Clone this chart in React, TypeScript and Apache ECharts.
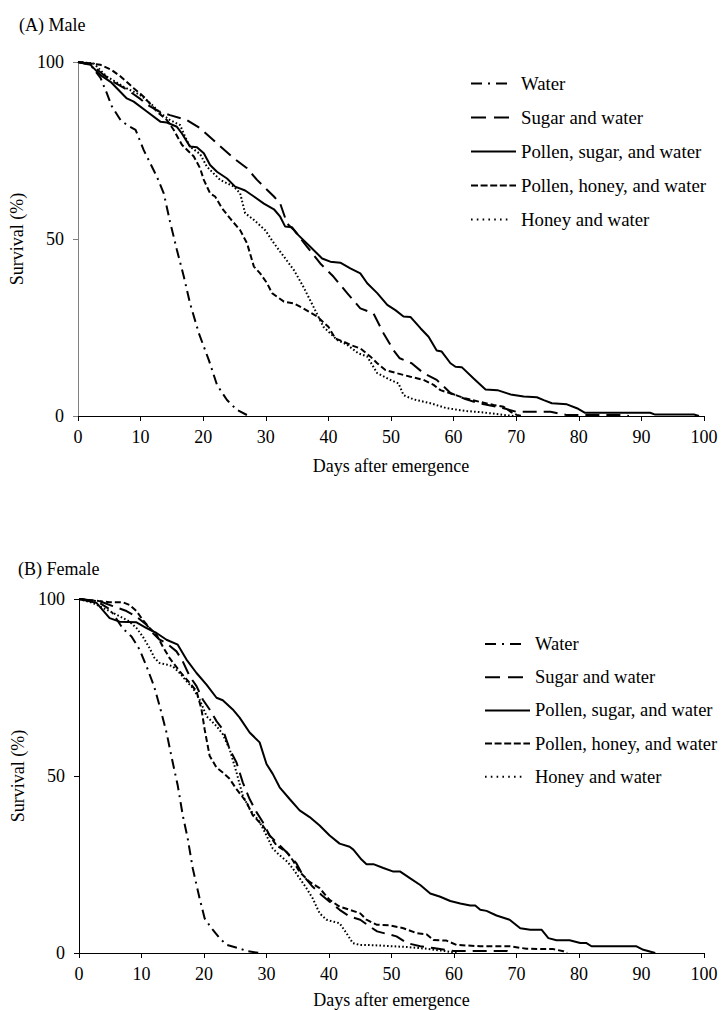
import React, { useEffect, useRef } from "react";
import * as echarts from "echarts";

const seriesNames = ["Water", "Sugar and water", "Pollen, sugar, and water", "Pollen, honey, and water", "Honey and water"];
const panelTitles = ["(A) Male", "(B) Female"];
const xAxisName = "Days after emergence";
const yAxisName = "Survival (%)";

// Male survival [day, %]
const waterM = [[0,100],[2,99.2],[3.6,95.5],[4.6,91.2],[5.4,87.5],[6.8,83.6],[8,82],[9.2,80.8],[10.5,75.1],[12.6,67.6],[13.7,62.9],[14.7,54.9],[15.8,46.9],[16.9,39.4],[17.9,31.8],[19.3,23.4],[20.9,15.8],[22.2,8.8],[23.8,4.5],[25.4,1.7],[27.3,0]];
const sugarM = [[0,100],[2,99.5],[4,96.5],[6,94],[8,92],[10,89.5],[11,88],[13,86],[14.7,85],[17.4,83.6],[19.5,81.3],[22.2,77],[24.9,72.8],[27,70],[28.6,66.7],[31.3,62],[32.3,60],[33.4,54.4],[34.5,52.5],[36.6,47.8],[38.7,43.1],[40.8,39.4],[43,34.7],[45.1,30.4],[47.2,29],[48.8,23.4],[50.4,18.6],[51.4,16.3],[53.3,14.9],[55.2,12.1],[57.3,10.2],[59.5,6.5],[62,4.7],[64,3.6],[68,2.2],[70,1.2],[75.5,1.2],[78,0.3],[87,0.3],[88,0]];
const pollenSugarM = [[0,100],[2,99.2],[3.6,96.3],[5.2,94.4],[7.8,89.7],[8.9,88.8],[11,86],[13.2,83.1],[14.2,82.9],[15.8,81.7],[16.6,79.8],[17.9,76.1],[19,75.9],[20.1,74.2],[21.1,70.9],[22.2,69],[23.8,67.1],[25.1,64.8],[26.7,63.7],[28.1,62],[29.7,60],[31.3,58.4],[32.3,56.3],[33.1,53.5],[34.2,53.3],[35.2,51.1],[37.1,47.8],[39,44.5],[40.3,43.6],[41.9,43.3],[43.5,41.7],[45.1,40.3],[46.2,37.5],[47.8,34.7],[49.4,31.4],[50.7,29.9],[52,28.1],[53.1,28],[54.7,24.8],[56,22.4],[57.3,18.5],[58.1,18.2],[59.5,14.9],[60.3,13.9],[61.3,13.8],[63.2,10.6],[65.1,7.5],[67,7.3],[69.1,6.1],[71.2,5.5],[73.3,5.3],[74.4,4.5],[75.7,3.6],[78.1,3.3],[79.7,2.2],[81,0.9],[91.4,0.9],[92.2,0.4],[98.4,0.4],[99.2,0]];
const pollenHoneyM = [[0,100],[2,99.6],[3.6,99.2],[5.4,97.7],[6.8,95.9],[8.9,92.6],[10.5,90.2],[12.6,86],[14.2,83.6],[15.3,80.8],[16.6,76.6],[18.5,73.3],[19.5,70],[20.1,66.7],[21.1,62.9],[21.9,62],[23,58.7],[24.3,55.8],[25.9,52.5],[27,48.8],[28.1,42.2],[29.1,40.3],[30.2,37.5],[31,34.7],[32.9,32.3],[34.5,31.8],[36,30.4],[38.2,28.1],[40,25.2],[41.1,21.9],[42.4,21],[43.5,20.1],[45.1,19.1],[46.7,16.8],[47.8,14.9],[49.1,13],[50.9,12.1],[53.1,11.1],[55.2,10.2],[56.8,8.8],[57.9,7.3],[60,6.1],[61.8,5],[64.2,4],[66.4,3.1],[68,2.6],[69.1,1.2],[70.1,0.3],[71,0]];
const honeyM = [[0,100],[2.5,99.6],[4.6,95.9],[7.3,93],[9.9,90.7],[11.6,88.3],[13.2,85.5],[14.7,83.6],[16.3,82.2],[17.1,78.9],[17.9,76.1],[19.5,74],[20.6,70.4],[22.7,66.7],[24.9,64.8],[25.9,62.9],[26.7,57.3],[28.1,55.4],[29.9,52.5],[31.3,48.8],[32.9,45],[34.5,41.2],[36,36.5],[37.6,30.9],[39.2,25.2],[41.4,21.5],[43,20.1],[44.8,17.7],[46.2,16.8],[47.8,12.1],[49.9,10.2],[51.2,9.2],[52,5.9],[53.6,4.7],[56.3,3.6],[58.9,2.2],[62.1,1.4],[64.8,1],[68,0.3],[69.6,0]];

// Female survival [day, %]
const waterF = [[0,100],[2.8,99.4],[5,97],[7,91.7],[8.4,89.4],[9.7,85.7],[10.8,81],[12,75.4],[12.9,69.8],[14,62.3],[15,53.8],[15.8,47.3],[16.6,38.9],[17.4,32.3],[18.2,23.9],[19.3,15.4],[20.1,9.8],[21.2,7],[22.5,4.2],[23.6,2.3],[25.4,1.4],[27,0.5],[28.9,0]];
const sugarF = [[0,100],[3.3,99.4],[5.4,98],[7.6,96.6],[9.2,95],[10.8,92.7],[11.8,90.4],[12.9,88.5],[14,87.5],[15.6,85.2],[16.6,82.4],[17.7,78.2],[18.8,75.4],[19.8,71.6],[20.9,68.8],[22,65.5],[23,63.2],[24.1,57.6],[25.2,53.8],[26.2,48.2],[27.3,43.5],[28.4,39.8],[29.4,37],[30.5,33.2],[32.1,30.4],[33.7,27.6],[34.8,25.3],[35.8,22],[37.4,18.7],[38.8,16.4],[40.1,14.5],[41.7,12.2],[43.3,10.3],[45,9.4],[46.5,7.5],[47.7,6.1],[50.8,4.7],[52.5,2.8],[54.6,1.9],[56.7,1.4],[59.9,0.6],[68.4,0.6],[69,0]];
const pollenSugarF = [[0,100],[2.8,98.9],[4.9,94.6],[6.5,93.6],[9.2,93.4],[10.8,91.8],[12.4,90.4],[14,88.5],[15.8,87.1],[17.2,82.9],[18.8,79.1],[20.4,75.8],[22,72.1],[23,71.4],[24.6,68.8],[25.7,66.5],[27.3,62.3],[28.9,59.5],[30,53.4],[31,50.6],[32.1,46.8],[33.7,43.5],[35.3,40.3],[36.9,38.4],[38.5,36],[40.1,33.2],[41.7,30.9],[43.3,30],[43.9,29.2],[45.2,26.4],[46,25.1],[47.1,25.1],[48.7,24],[50.3,23],[51.4,23],[53,21.1],[54.6,19.2],[56.2,16.8],[57.8,15.9],[59.4,14.7],[61,14],[62.6,13.4],[63.4,13.4],[64.2,12.2],[65.2,11.9],[66.8,10.6],[68.9,9.4],[70.6,7],[72.2,6.6],[74,6.6],[75.1,4.2],[76.4,3.6],[78.5,3.6],[80.2,2.8],[81.2,2.8],[82,1.9],[89.2,1.9],[90.3,0.9],[92.2,0]];
const pollenHoneyF = [[0,100],[3.3,99.4],[4.9,99.1],[7,99.1],[8.1,98.3],[9.2,96.6],[10.2,94.1],[11.3,91.8],[12.4,89.9],[13.4,86.6],[14.5,83.3],[16.1,79.6],[17.7,76.3],[18.8,74],[19.6,68.8],[20.1,63.2],[20.9,55.7],[22,52.4],[23,51],[24.1,49.2],[25.2,46.3],[26.8,42.6],[27.8,38.9],[29.4,36],[30.5,33.2],[31.6,30.4],[33.2,28.6],[34.2,26.2],[35.3,22.9],[36.9,20.1],[38.5,18.3],[40.1,15],[41.7,13.1],[43.3,12.2],[45,11.2],[46,9.4],[47.6,8],[49.8,7.8],[51.9,7],[54,5.6],[55.6,5.3],[56.7,3.7],[58.8,3.5],[60.4,2.3],[64.2,1.9],[68.9,1.9],[71.6,1.2],[75.9,1.1],[77.5,0.5],[78.1,0]];
const honeyF = [[0,100],[2.2,98.9],[4.4,97],[6.5,95.1],[8.1,93.6],[9.2,91.8],[10.2,89.4],[11.3,86.1],[12.1,83.3],[12.9,81.9],[14,81.5],[15,81],[16.1,79.1],[17.2,76.8],[18.2,74.9],[19.3,71.6],[20.4,66.9],[22,64.1],[23,61.8],[24.1,57.6],[25.2,51],[26.2,44.5],[27.3,40.7],[28.9,37],[30,33.2],[31,29.5],[32.1,27.6],[33.4,25.7],[34.2,23.9],[35.3,21.1],[36.4,18.3],[37.4,15.4],[38.5,11.2],[39.6,9.4],[40.6,8.9],[41.7,8.4],[42.8,5.6],[43.8,2.8],[44.9,2.3],[47.1,2.2],[52.4,1.7],[55.6,1.2],[58.8,0.5],[60.4,0]];

const maleData = [waterM, sugarM, pollenSugarM, pollenHoneyM, honeyM];
const femaleData = [waterF, sugarF, pollenSugarF, pollenHoneyF, honeyF];

const FONT = "Liberation Serif";
const dashes: any[] = [[10, 5, 2, 5], [14, 7], "solid", [6, 3], [1.6, 2.2]];
const legendDashes: any[] = [[11, 6, 2, 6], [15, 8], null, [7, 2.6], [1.6, 4.2]];
const legendLens = [40, 45, 45, 45, 40];

function legendGraphic(x0: number, y0: number, step: number, fs: number) {
  const els: any[] = [];
  seriesNames.forEach((name, i) => {
    const y = y0 + i * step;
    els.push({
      type: "line", silent: true,
      shape: { x1: x0, y1: y, x2: x0 + legendLens[i], y2: y },
      style: { stroke: "#000", lineWidth: 2, lineDash: legendDashes[i], lineCap: "butt" },
    });
    els.push({
      type: "text", silent: true, x: x0 + 50, y,
      style: { text: name, fontFamily: FONT, fontSize: fs, fill: "#000", verticalAlign: "middle", align: "left" },
    });
  });
  return els;
}

export default function App() {
  const ref = useRef<HTMLDivElement>(null);
  useEffect(() => {
    if (!ref.current) return;
    const chart = echarts.init(ref.current, null, { renderer: "svg" });
    const axisText = { fontFamily: FONT, fontSize: 18, color: "#000" };
    const mkX = (gridIndex: number, nameGap: number) => ({
      type: "value", gridIndex, min: 0, max: 100, interval: 10,
      name: xAxisName, nameLocation: "middle", nameGap,
      nameTextStyle: axisText,
      axisLine: { show: true, lineStyle: { color: "#000", width: 1 } },
      axisTick: { show: true, inside: false, length: 5, lineStyle: { color: "#000" } },
      axisLabel: { ...axisText, margin: 12 },
      splitLine: { show: false },
    });
    const mkY = (gridIndex: number, color: string) => ({
      type: "value", gridIndex, min: 0, max: 100, interval: 50,
      name: yAxisName, nameLocation: "middle", nameGap: 46,
      nameTextStyle: axisText,
      axisLine: { show: true, lineStyle: { color, width: 1 } },
      axisTick: { show: true, inside: false, length: 5, lineStyle: { color } },
      axisLabel: { ...axisText, margin: 14 },
      splitLine: { show: false },
    });
    const mkSeries = (data: number[][][], idx: number) =>
      data.map((d, i) => ({
        type: "line", name: seriesNames[i], xAxisIndex: idx, yAxisIndex: idx,
        data: d, showSymbol: false, symbol: "none",
        lineStyle: { color: "#000", width: 2, type: dashes[i], cap: "butt" },
        itemStyle: { color: "#000" },
      }));
    chart.setOption({
      animation: false,
      backgroundColor: "#fff",
      title: [
        { text: panelTitles[0], left: 14, top: 11, textStyle: { fontFamily: FONT, fontSize: 18, fontWeight: "normal", color: "#000" } },
        { text: panelTitles[1], left: 13, top: 555, textStyle: { fontFamily: FONT, fontSize: 18, fontWeight: "normal", color: "#000" } },
      ],
      graphic: [...legendGraphic(471, 83.5, 34, 18.8), ...legendGraphic(485, 644, 33.2, 18.5)],
      grid: [
        { left: 78, top: 62, width: 626, height: 354 },
        { left: 79, top: 599, width: 625, height: 356 },
      ],
      xAxis: [mkX(0, 41), mkX(1, 38)],
      yAxis: [mkY(0, "#808080"), mkY(1, "#000")],
      series: [...mkSeries(maleData, 0), ...mkSeries(femaleData, 1)],
    });
    return () => chart.dispose();
  }, []);
  return <div ref={ref} style={{ position: "absolute", left: 0, top: 0, width: 722, height: 1010 }} />;
}
